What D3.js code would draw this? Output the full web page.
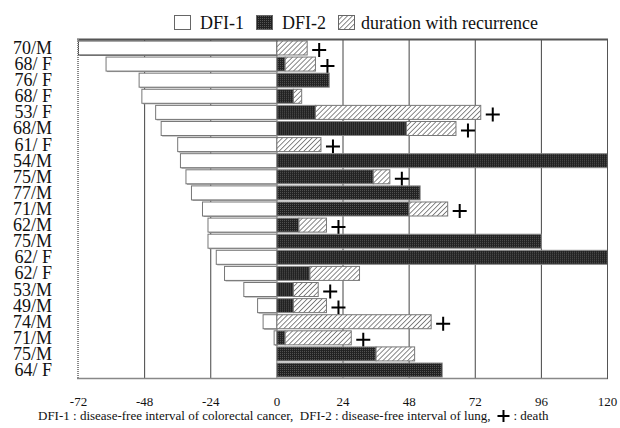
<!DOCTYPE html>
<html>
<head>
<meta charset="utf-8">
<script src="https://cdn.jsdelivr.net/npm/d3@7"></script>
<style>
  html, body { margin: 0; padding: 0; background: #fff; }
  text { font-family: "Liberation Serif", "DejaVu Serif", serif; fill: #111; }
</style>
</head>
<body>
<svg id="chart"></svg>
<script>
// patients, top to bottom (age/sex)
const patients = ["70/M", "68/ F", "76/ F", "68/ F", "53/ F", "68/M", "61/ F", "54/M", "75/M", "77/M",
    "71/M", "62/M", "75/M", "62/ F", "62/ F", "53/M", "49/M", "74/M", "71/M", "75/M", "64/ F"];
// months, drawn to the left of 0
const dfi1 = [72, 62, 50, 49, 44, 42, 36, 35, 33, 31, 27, 25, 25, 22, 19, 12, 7, 5, 1, 0, 0];
// months, drawn to the right of 0
const dfi2 = [0, 3, 19, 6, 14, 47, 0, 120, 35, 52, 48, 8, 96, 120, 12, 6, 6, 0, 3, 36, 60];
// duration with recurrence, following DFI-2
const recurrence = [11, 11, 0, 3, 60, 18, 16, 0, 6, 0, 14, 10, 0, 0, 18, 9, 12, 56, 24, 14, 0];
const death = [1, 1, 0, 0, 1, 1, 1, 0, 1, 0, 1, 1, 0, 0, 0, 1, 1, 1, 1, 0, 0];
const ticks = [-72, -48, -24, 0, 24, 48, 72, 96, 120];
const legendLabels = ["DFI-1", "DFI-2", "duration with recurrence"];

(() => {
    const width = 620, height = 428;
    const svg = d3.select("#chart").attr("width", width).attr("height", height);
    const serif = '"Liberation Serif", "DejaVu Serif", serif';

    const x = d3.scaleLinear().domain([-72, 120]).range([78.5, 607.5]);
    const y = d3.scaleBand().domain(d3.range(patients.length)).range([40, 378]).paddingInner(0.13).paddingOuter(0.06);

    const defs = svg.append("defs");
    const hatch = defs.append("pattern").attr("id", "hatch")
        .attr("patternUnits", "userSpaceOnUse").attr("width", 3.5).attr("height", 3.5)
        .attr("patternTransform", "rotate(45)");
    hatch.append("rect").attr("width", 3.5).attr("height", 3.5).attr("fill", "#fff");
    hatch.append("line").attr("x1", 0).attr("y1", 0).attr("x2", 0).attr("y2", 3.5)
        .attr("stroke", "#555").attr("stroke-width", 1.4);
    const dots = defs.append("pattern").attr("id", "dots")
        .attr("patternUnits", "userSpaceOnUse").attr("width", 2).attr("height", 2);
    dots.append("rect").attr("width", 2).attr("height", 2).attr("fill", "#222");
    dots.append("rect").attr("width", 1).attr("height", 1).attr("fill", "#555");

    // grid lines
    svg.append("g").selectAll("line")
        .data(ticks.filter(t => t !== -72 && t !== 120))
        .enter().append("line")
        .attr("x1", d => x(d)).attr("x2", d => x(d))
        .attr("y1", 40).attr("y2", 378)
        .attr("stroke", d => d === 0 ? "#888" : "#444").attr("stroke-width", 1);

    const rows = svg.append("g").selectAll("g")
        .data(patients.map((p, i) => ({p, i})))
        .enter().append("g")
        .attr("transform", d => "translate(0," + y(d.i) + ")");
    const bh = y.bandwidth();

    // DFI-1
    rows.filter(d => dfi1[d.i] > 0).append("rect")
        .attr("x", d => x(-dfi1[d.i]) + 1).attr("y", 1)
        .attr("width", d => x(0) - x(-dfi1[d.i])).attr("height", bh)
        .attr("fill", "#999");
    rows.filter(d => dfi1[d.i] > 0).append("rect")
        .attr("x", d => x(-dfi1[d.i])).attr("y", 0)
        .attr("width", d => x(0) - x(-dfi1[d.i])).attr("height", bh)
        .attr("fill", "#fff").attr("stroke", d => d.i === 0 ? "#444" : "#777").attr("stroke-width", 1);

    // DFI-2
    rows.filter(d => dfi2[d.i] > 0).append("rect")
        .attr("x", x(0)).attr("y", 0)
        .attr("width", d => x(dfi2[d.i]) - x(0)).attr("height", bh)
        .attr("fill", "url(#dots)").attr("stroke", "#888").attr("stroke-width", 1);

    // duration with recurrence
    rows.filter(d => recurrence[d.i] > 0).append("rect")
        .attr("x", d => x(dfi2[d.i])).attr("y", 0)
        .attr("width", d => x(dfi2[d.i] + recurrence[d.i]) - x(dfi2[d.i])).attr("height", bh)
        .attr("fill", "url(#hatch)").attr("stroke", "#777").attr("stroke-width", 1);

    // death marks
    const cross = (sel, s) => sel.append("path")
        .attr("d", `M${-s},0H${s}M0,${-s}V${s}`)
        .attr("stroke", "#000").attr("stroke-width", 2).attr("fill", "none");
    rows.filter(d => death[d.i]).append("g")
        .attr("transform", d => "translate(" + (x(dfi2[d.i] + recurrence[d.i]) + 12) + "," + (bh / 2 + 2) + ")")
        .call(cross, 7);

    // row labels
    rows.append("text")
        .attr("x", 52).attr("y", bh / 2 + 6)
        .attr("text-anchor", "end").attr("font-size", 18).attr("font-family", serif)
        .text(d => d.p);

    // frame
    svg.append("line").attr("x1", 77).attr("x2", 608).attr("y1", 39.5).attr("y2", 39.5)
        .attr("stroke", "#555").attr("stroke-width", 2);
    svg.append("line").attr("x1", 78).attr("x2", 78).attr("y1", 39).attr("y2", 379)
        .attr("stroke", "#888").attr("stroke-width", 2).attr("stroke-dasharray", "1,1");
    svg.append("line").attr("x1", 77).attr("x2", 608).attr("y1", 378.5).attr("y2", 378.5)
        .attr("stroke", "#888").attr("stroke-width", 1.5);
    svg.append("line").attr("x1", 607.5).attr("x2", 607.5).attr("y1", 39).attr("y2", 379)
        .attr("stroke", "#555").attr("stroke-width", 1);

    // axis tick labels
    svg.append("g").selectAll("text")
        .data(ticks).enter().append("text")
        .attr("x", d => x(d)).attr("y", 406)
        .attr("text-anchor", "middle").attr("font-size", 13).attr("font-family", serif)
        .text(d => d);

    // legend
    const fills = ["#fff", "url(#dots)", "url(#hatch)"];
    const boxX = [174, 256, 338];
    const lg = svg.append("g").selectAll("g").data(legendLabels).enter().append("g")
        .attr("transform", (d, i) => "translate(" + boxX[i] + ",0)");
    lg.append("rect").attr("x", 0.5).attr("y", 15.5).attr("width", 16).attr("height", 14)
        .attr("fill", (d, i) => fills[i]).attr("stroke", "#666").attr("stroke-width", 1);
    lg.append("text").attr("x", (d, i) => i === 2 ? 23 : 26).attr("y", 29).attr("font-size", 18)
        .attr("font-family", serif).text(d => d);

    // caption
    const cap = svg.append("text").attr("x", 38).attr("y", 420).attr("font-size", 13)
        .attr("font-family", serif).attr("xml:space", "preserve")
        .text("DFI-1 : disease-free interval of colorectal cancer,  DFI-2 : disease-free interval of lung,");
    const cw = cap.node().getComputedTextLength();
    svg.append("g").attr("transform", "translate(" + (38 + cw + 13) + ",416)").call(cross, 6);
    svg.append("text").attr("x", 38 + cw + 23).attr("y", 420).attr("font-size", 13)
        .attr("font-family", serif).text(": death");
})();
</script>
</body>
</html>
